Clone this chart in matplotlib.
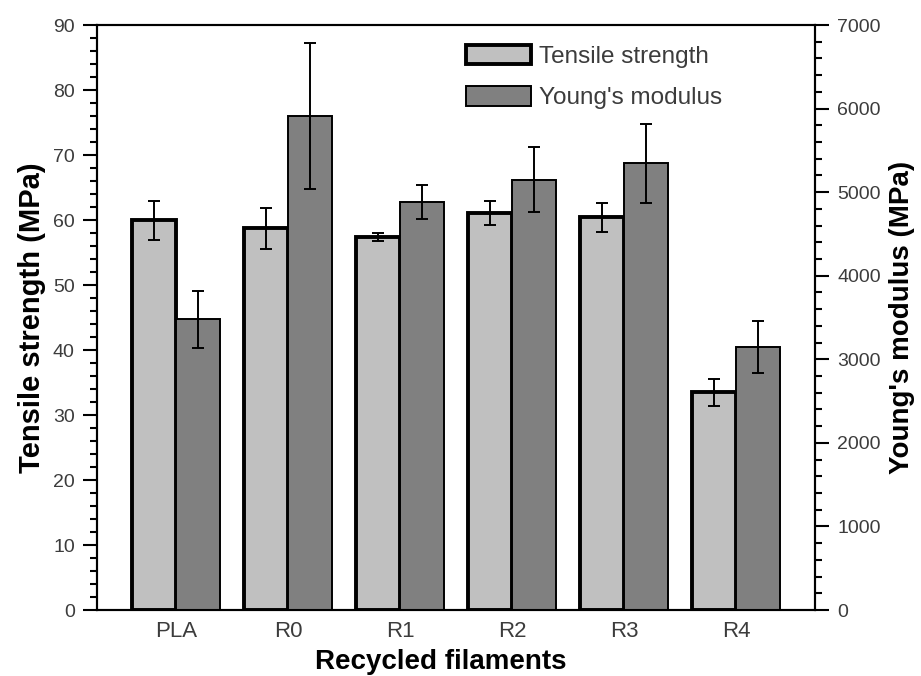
import matplotlib
matplotlib.use("Agg")
import matplotlib.pyplot as plt
import numpy as np
from matplotlib.ticker import MultipleLocator

plt.rcParams['font.family'] = ['Liberation Sans', 'DejaVu Sans']

# data
filaments = ['PLA', 'R0', 'R1', 'R2', 'R3', 'R4']
tensile = [60.0, 58.7, 57.4, 61.1, 60.4, 33.5]
tensile_err = [3.0, 3.1, 0.6, 1.9, 2.2, 2.1]
young = [3480, 5910, 4880, 5150, 5345, 3145]
young_err = [340, 870, 200, 390, 470, 310]

x = np.arange(len(filaments))
w = 0.395
tick_col = '#3c3c3c'

fig = plt.figure(figsize=(9.21, 6.76), dpi=100)
ax = fig.add_axes([0.1053, 0.0976, 0.7797, 0.8654])
ax2 = ax.twinx()

# tensile strength (left axis)
b1 = ax.bar(x - w / 2, tensile, w, color='#c0c0c0', edgecolor='black',
            linewidth=2.8, label='Tensile strength', zorder=2)
ax.errorbar(x - w / 2, tensile, yerr=tensile_err, fmt='none', ecolor='black',
            elinewidth=1.4, capsize=4.5, capthick=1.4, zorder=3)

# young's modulus (right axis)
b2 = ax2.bar(x + w / 2, young, w, color='#808080', edgecolor='black',
             linewidth=1.4, label="Young's modulus", zorder=2)
ax2.errorbar(x + w / 2, young, yerr=young_err, fmt='none', ecolor='black',
             elinewidth=1.4, capsize=4.5, capthick=1.4, zorder=3)

ax.set_xlim(-0.705, 5.705)
ax.set_ylim(0, 90)
ax2.set_ylim(0, 7000)

ax.set_xticks(x)
ax.set_xticklabels(filaments)
ax.tick_params(axis='x', length=0, pad=8, labelsize=16, labelcolor=tick_col)

ax.yaxis.set_major_locator(MultipleLocator(10))
ax.yaxis.set_minor_locator(MultipleLocator(2))
ax.tick_params(axis='y', which='major', length=10, width=1.5, direction='out',
               labelsize=14, labelcolor=tick_col, pad=6)
ax.tick_params(axis='y', which='minor', length=5, width=1.5, direction='out')

ax2.yaxis.set_major_locator(MultipleLocator(1000))
ax2.yaxis.set_minor_locator(MultipleLocator(200))
ax2.tick_params(axis='y', which='major', length=10, width=1.5, direction='out',
                labelsize=14, labelcolor=tick_col, pad=6)
ax2.tick_params(axis='y', which='minor', length=5, width=1.5, direction='out')

for a in (ax, ax2):
    for s in a.spines.values():
        s.set_linewidth(1.5)

ax.set_xlabel('Recycled filaments', fontsize=20, fontweight='bold')
ax.xaxis.set_label_coords(0.479, -0.066)
ax.set_ylabel('Tensile strength (MPa)', fontsize=21, fontweight='bold', labelpad=5)
ax2.set_ylabel("Young's modulus (MPa)", fontsize=20, fontweight='bold', labelpad=6)

# legend
ax2.legend(handles=[b1, b2], loc='upper left', bbox_to_anchor=(0.49, 0.995),
           frameon=False, fontsize=17.5, handlelength=2.7, handleheight=0.85,
           labelspacing=0.75, handletextpad=0.3, borderpad=0.2,
           labelcolor=tick_col)

plt.savefig('out.png', dpi=100)
